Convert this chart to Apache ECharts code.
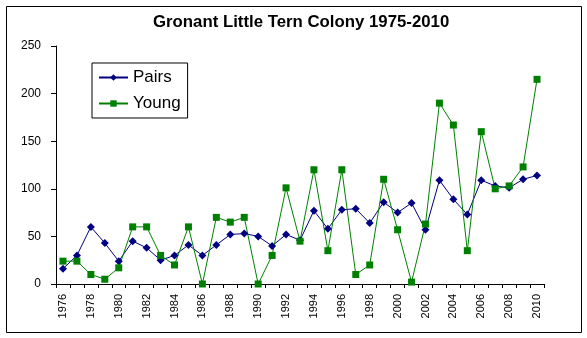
<!DOCTYPE html>
<html>
<head>
<meta charset="utf-8">
<script src="https://cdn.jsdelivr.net/npm/echarts@6/dist/echarts.min.js"></script>
<style>html,body{margin:0;padding:0;background:#fff}#c{width:587px;height:338px}</style>
</head>
<body>
<div id="c"></div>
<script>
var years = ['1976','1977','1978','1979','1980','1981','1982','1983','1984','1985','1986','1987','1988','1989','1990','1991','1992','1993','1994','1995','1996','1997','1998','1999','2000','2001','2002','2003','2004','2005','2006','2007','2008','2009','2010'];
var pairs = [16,30,60,43,24,45,38,25,30,41,30,41,52,53,50,40,52,46,77,58,78,79,64,86,75,85,57,109,89,73,109,103,101,110,114];
var young = [24,24,10,5,17,60,60,30,20,60,0,70,65,70,0,30,101,45,120,35,120,10,20,110,57,2,63,190,167,35,160,100,103,123,215];
var yTicks = {min:0, max:250, interval:50};
var titleText = 'Gronant Little Tern Colony 1975-2010';
var seriesNames = ['Pairs','Young'];

var chart = echarts.init(document.getElementById('c'), null, {renderer:'canvas'});
var font = 'Arial, "Liberation Sans", sans-serif';
chart.setOption({
  backgroundColor:'#fff',
  animation:false,
  title:{text:titleText, left:148, top:9,
    textStyle:{fontFamily:font, fontSize:16.8, fontWeight:'bold', color:'#000'}},
  graphic:[{type:'rect', shape:{x:6.5,y:6.5,width:575,height:326}, style:{fill:null, stroke:'#000', lineWidth:1}, silent:true, z:-1}],
  legend:{orient:'vertical', left:92, top:63, padding:[6,7,6,6], itemGap:9, itemWidth:29, itemHeight:8,
    borderColor:'#000', borderWidth:1, backgroundColor:'#fff',
    textStyle:{fontFamily:font, fontSize:17, color:'#000', padding:[0,0,0,0]},
    data:seriesNames},
  grid:{left:56, right:43, top:46, bottom:54, containLabel:false},
  xAxis:{type:'category', data:years, boundaryGap:true,
    axisLine:{lineStyle:{color:'#000', width:1}},
    axisTick:{show:true, interval:0, length:4, lineStyle:{color:'#000'}},
    axisLabel:{interval:1, rotate:90, margin:10, fontFamily:font, fontSize:11, color:'#000'},
    splitLine:{show:false}},
  yAxis:{type:'value', min:yTicks.min, max:yTicks.max, interval:yTicks.interval,
    axisLine:{show:true, lineStyle:{color:'#000', width:1}},
    axisTick:{show:true, length:5, lineStyle:{color:'#000'}},
    axisLabel:{margin:15, fontFamily:font, fontSize:12, color:'#000'},
    splitLine:{show:false}},
  series:[
    {name:seriesNames[0], type:'line', data:pairs, symbol:'diamond', symbolSize:8,
      itemStyle:{color:'#000080'}, lineStyle:{color:'#000080', width:1}},
    {name:seriesNames[1], type:'line', data:young, symbol:'rect', symbolSize:7,
      itemStyle:{color:'#008000'}, lineStyle:{color:'#008000', width:1}}
  ]
});
</script>
</body>
</html>
